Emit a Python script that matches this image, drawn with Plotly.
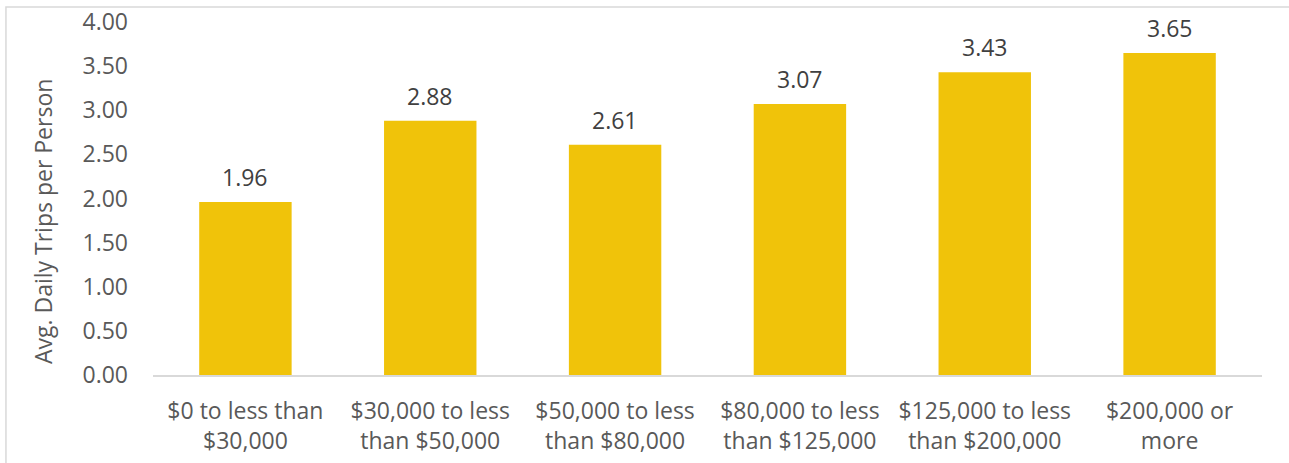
import plotly.graph_objects as go

categories = ["$0 to less than<br>$30,000", "$30,000 to less<br>than $50,000", "$50,000 to less<br>than $80,000",
              "$80,000 to less<br>than $125,000", "$125,000 to less<br>than $200,000", "$200,000 or<br>more"]
values = [1.96, 2.88, 2.61, 3.07, 3.43, 3.65]
y_ticks = [0, 0.5, 1, 1.5, 2, 2.5, 3, 3.5, 4]
y_title = "Avg. Daily Trips per Person"

FONT = "'Open Sans', sans-serif"
TXT = "#595959"
FS = 23

fig = go.Figure(go.Bar(x=categories, y=values, marker_color="#F0C30A", marker_line_width=0, hoverinfo="skip"))

for c, v in zip(categories, values):
    fig.add_annotation(x=c, y=v, text=f"{v:.2f}", showarrow=False, yanchor="bottom", yshift=7,
                       font=dict(family=FONT, size=FS, color="#404040"))

fig.add_annotation(xref="paper", yref="paper", x=-0.0992, y=0.436, text=y_title, textangle=-90,
                   showarrow=False, xanchor="center", yanchor="middle",
                   font=dict(family=FONT, size=FS, color=TXT))

fig.add_shape(type="rect", xref="paper", yref="paper", x0=-0.1326, x1=1.05, y0=-0.4, y1=1.0425,
              line=dict(color="#D9D9D9", width=1.5), fillcolor="rgba(0,0,0,0)", layer="below")

fig.update_layout(
    width=1289, height=463,
    margin=dict(l=153, r=27, t=22, b=88),
    paper_bgcolor="white", plot_bgcolor="white",
    bargap=0.5, showlegend=False,
    font=dict(family=FONT, size=FS, color=TXT),
    xaxis=dict(showline=True, linecolor="#D9D9D9", linewidth=2, ticks="", ticklabelstandoff=14,
               automargin=False, tickfont=dict(size=FS, color=TXT)),
    yaxis=dict(range=[0, 4], tickvals=y_ticks, tickformat=".2f", showgrid=False, zeroline=False,
               showline=False, ticks="", ticklabelstandoff=24, automargin=False,
               tickfont=dict(size=FS, color=TXT)),
)

fig.write_html("out.html", config={"displayModeBar": False},
               post_script="document.body.style.margin='0';")
